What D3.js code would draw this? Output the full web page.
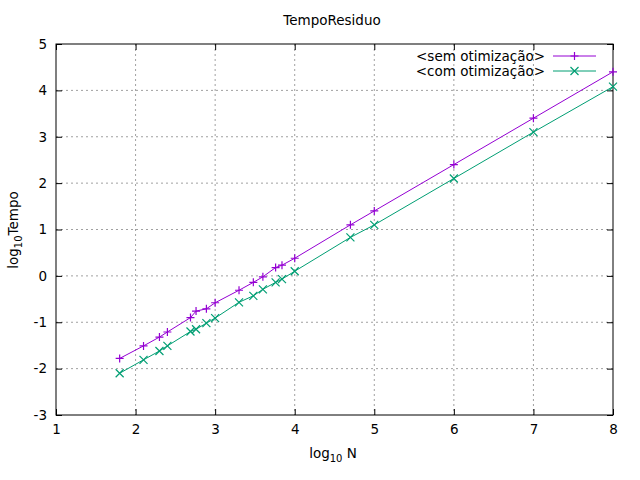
<!DOCTYPE html><html><head><meta charset="utf-8"><script src="https://d3js.org/d3.v7.min.js"></script>
<style>body{margin:0;background:#fff}text{font-family:"DejaVu Sans",sans-serif;font-size:13.5px}</style></head><body>
<script>
const xs=[1.8,2.1,2.3,2.4,2.69,2.76,2.89,3.0,3.3,3.48,3.6,3.76,3.84,4.0,4.7,5,6,7,8];
const sem=[-1.78,-1.51,-1.32,-1.21,-0.9,-0.76,-0.71,-0.58,-0.31,-0.14,-0.02,0.18,0.23,0.38,1.1,1.4,2.4,3.4,4.4];
const com=[-2.1,-1.81,-1.62,-1.51,-1.2,-1.15,-1.02,-0.91,-0.57,-0.43,-0.29,-0.14,-0.07,0.1,0.83,1.1,2.1,3.1,4.08];
const xTicks=[1,2,3,4,5,6,7,8], yTicks=[-3,-2,-1,0,1,2,3,4,5];
const svg=d3.select("body").append("svg").attr("width",640).attr("height",480);
const x=d3.scaleLinear().domain([1,8]).range([56,613]);
const y=d3.scaleLinear().domain([-3,5]).range([415,44]);
const fmt=d=>String(d);
const g=svg.append("g");
xTicks.slice(1,-1).forEach(t=>g.append("line").attr("x1",x(t)).attr("x2",x(t)).attr("y1",44).attr("y2",415).attr("stroke","#a0a0a0").attr("stroke-dasharray","2,3"));
yTicks.slice(1,-1).forEach(t=>g.append("line").attr("y1",y(t)).attr("y2",y(t)).attr("x1",56).attr("x2",613).attr("stroke","#a0a0a0").attr("stroke-dasharray","2,3"));
svg.append("g").attr("transform","translate(0,415)").call(d3.axisBottom(x).tickValues(xTicks).tickFormat(fmt).tickSizeInner(-6).tickSizeOuter(0).tickPadding(9));
svg.append("g").attr("transform","translate(0,44)").call(d3.axisTop(x).tickValues(xTicks).tickSizeInner(-6).tickSizeOuter(0).tickFormat(""));
svg.append("g").attr("transform","translate(56,0)").call(d3.axisLeft(y).tickValues(yTicks).tickFormat(fmt).tickSizeInner(-6).tickSizeOuter(0).tickPadding(9));
svg.append("g").attr("transform","translate(613,0)").call(d3.axisRight(y).tickValues(yTicks).tickSizeInner(-6).tickSizeOuter(0).tickFormat(""));
svg.selectAll(".domain").remove();
svg.append("rect").attr("x",56).attr("y",44).attr("width",557).attr("height",371).attr("fill","none").attr("stroke","#000");
svg.selectAll(".tick text").style("font-size","13.5px").style("font-family","DejaVu Sans").attr("fill","#000");
const line=d3.line();
function series(ys,col,mark){
 svg.append("path").attr("d",line(xs.map((v,i)=>[x(v),y(ys[i])]))).attr("fill","none").attr("stroke",col);
 xs.forEach((v,i)=>drawMark(x(v),y(ys[i]),col,mark));
}
function drawMark(cx,cy,col,mark){
 const s=4,p=mark==="+"?`M${cx-s},${cy}H${cx+s}M${cx},${cy-s}V${cy+s}`:`M${cx-s},${cy-s}L${cx+s},${cy+s}M${cx-s},${cy+s}L${cx+s},${cy-s}`;
 svg.append("path").attr("d",p).attr("stroke",col).attr("stroke-width",1.2);
}
series(sem,"#9400d3","+");series(com,"#009e73","x");
[["<sem otimização>","#9400d3","+",56],["<com otimização>","#009e73","x",71]].forEach(([t,c,m,yy])=>{
 svg.append("text").attr("x",545).attr("y",yy+5).attr("text-anchor","end").text(t);
 svg.append("line").attr("x1",553).attr("x2",596).attr("y1",yy).attr("y2",yy).attr("stroke",c);
 drawMark(574.5,yy,c,m);
});
svg.append("text").attr("x",332).attr("y",25).attr("text-anchor","middle").text("TempoResiduo");
const xl=svg.append("text").attr("x",333).attr("y",458).attr("text-anchor","middle");
xl.append("tspan").text("log");xl.append("tspan").attr("dy",4).style("font-size","10px").text("10");xl.append("tspan").attr("dy",-4).text(" N");
const yl=svg.append("text").attr("transform","translate(18,230) rotate(-90)").attr("text-anchor","middle");
yl.append("tspan").text("log");yl.append("tspan").attr("dy",4).style("font-size","10px").text("10");yl.append("tspan").attr("dy",-4).text("Tempo");
</script></body></html>
